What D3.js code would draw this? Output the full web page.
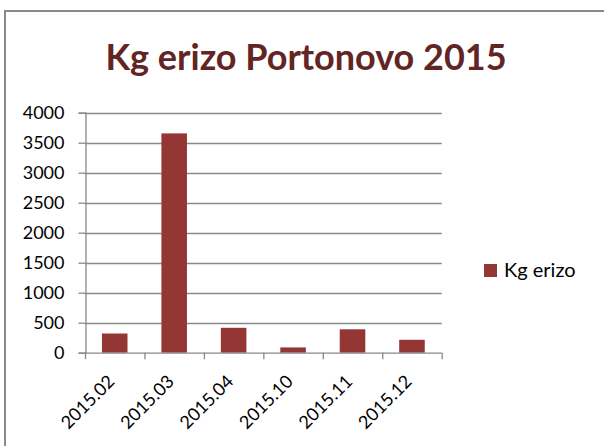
<!DOCTYPE html>
<html>
<head>
<meta charset="utf-8">
<script src="https://cdn.jsdelivr.net/npm/d3@7"></script>
<style>
  html, body { margin: 0; padding: 0; background: #fff; }
  svg { display: block; }
</style>
</head>
<body>
<svg id="chart" width="604" height="446"></svg>
<script>
const categories = ["2015.02", "2015.03", "2015.04", "2015.10", "2015.11", "2015.12"];
const values = [320, 3655, 415, 88, 390, 215];
const yTicks = [0, 500, 1000, 1500, 2000, 2500, 3000, 3500, 4000];
const seriesName = "Kg erizo";
const titleText = "Kg erizo Portonovo 2015";

const W = 604, H = 446;
const plot = { left: 85, right: 441.7, top: 112.7, bottom: 352.7 };
const font = "Lato, 'Open Sans', sans-serif";
const gridColor = "#898989";
const barColor = "#943634";
const titleColor = "#632523";

const svg = d3.select("#chart");

// outer chart border (extends beyond the view on right/bottom)
svg.append("rect")
  .attr("x", 5).attr("y", 11)
  .attr("width", W + 20).attr("height", H + 20)
  .attr("fill", "#fff")
  .attr("stroke", gridColor).attr("stroke-width", 2);

const x = d3.scaleBand()
  .domain(categories)
  .range([plot.left, plot.right])
  .paddingInner(0.57)
  .paddingOuter(0.285);

const y = d3.scaleLinear()
  .domain([0, 4000])
  .range([plot.bottom, plot.top]);

// gridlines
svg.append("g")
  .selectAll("line")
  .data(yTicks.filter(d => d > 0))
  .join("line")
  .attr("x1", plot.left).attr("x2", plot.right)
  .attr("y1", d => Math.round(y(d)) + 0.5).attr("y2", d => Math.round(y(d)) + 0.5)
  .attr("stroke", gridColor).attr("stroke-width", 1.3);

// bars
svg.append("g")
  .selectAll("rect")
  .data(values)
  .join("rect")
  .attr("x", (d, i) => x(categories[i]))
  .attr("width", x.bandwidth())
  .attr("y", d => y(d))
  .attr("height", d => y(0) - y(d))
  .attr("fill", barColor);

// y axis
const yAxis = d3.axisLeft(y).tickValues(yTicks).tickSize(7).tickPadding(14).tickFormat(d3.format("d"));
const gy = svg.append("g")
  .attr("transform", `translate(${plot.left + 0.5},0)`)
  .call(yAxis);
gy.select(".domain").attr("stroke", gridColor).attr("stroke-width", 1.3);
gy.selectAll(".tick line").attr("stroke", gridColor).attr("stroke-width", 1.3);
gy.selectAll(".tick text")
  .attr("font-family", font).attr("font-size", 18).attr("fill", "#000");

// x axis baseline + boundary ticks
const step = x.step();
const boundaries = d3.range(categories.length + 1).map(i => plot.left + i * step);
const gx = svg.append("g");
gx.append("line")
  .attr("x1", plot.left).attr("x2", plot.right)
  .attr("y1", y(0) + 0.5).attr("y2", y(0) + 0.5)
  .attr("stroke", gridColor).attr("stroke-width", 1.3);
gx.selectAll("line.bt")
  .data(boundaries)
  .join("line")
  .attr("class", "bt")
  .attr("x1", d => d + 0.5).attr("x2", d => d + 0.5)
  .attr("y1", y(0)).attr("y2", y(0) + 6.5)
  .attr("stroke", gridColor).attr("stroke-width", 1.3);
gx.selectAll("text")
  .data(categories)
  .join("text")
  .attr("transform", d => `translate(${x(d) + x.bandwidth() / 2 + 1},${y(0) + 30}) rotate(-45)`)
  .attr("text-anchor", "end")
  .attr("font-family", font).attr("font-size", 18).attr("fill", "#000")
  .text(d => d);

// title
svg.append("text")
  .attr("x", 306).attr("y", 70)
  .attr("text-anchor", "middle")
  .attr("font-family", font).attr("font-weight", "bold").attr("font-size", 36)
  .attr("fill", titleColor)
  .text(titleText);

// legend
const lg = svg.append("g").attr("transform", "translate(484,264)");
lg.append("rect").attr("width", 13).attr("height", 13).attr("fill", barColor);
lg.append("text")
  .attr("x", 20).attr("y", 13)
  .attr("font-family", font).attr("font-size", 20).attr("fill", "#000")
  .text(seriesName);
</script>
</body>
</html>
